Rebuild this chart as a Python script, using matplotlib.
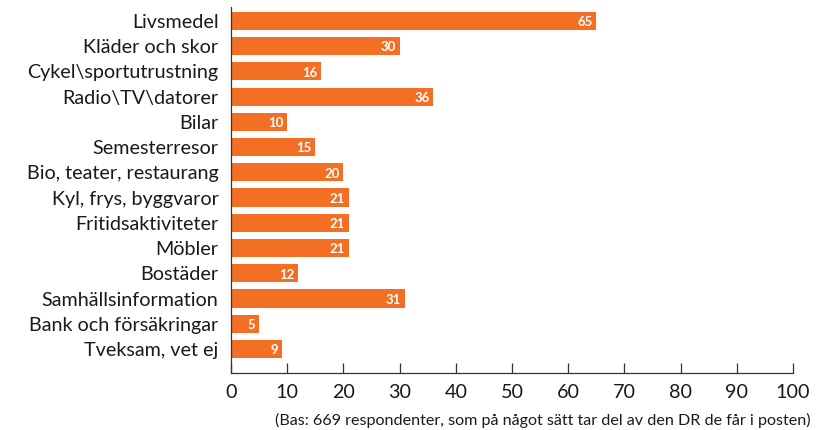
import matplotlib.pyplot as plt

categories = [
    "Livsmedel", "Kläder och skor", "Cykel\\sportutrustning", "Radio\\TV\\datorer",
    "Bilar", "Semesterresor", "Bio, teater, restaurang", "Kyl, frys, byggvaror",
    "Fritidsaktiviteter", "Möbler", "Bostäder", "Samhällsinformation",
    "Bank och försäkringar", "Tveksam, vet ej",
]
values = [65, 30, 16, 36, 10, 15, 20, 21, 21, 21, 12, 31, 5, 9]
xticks = [0, 10, 20, 30, 40, 50, 60, 70, 80, 90, 100]
note = "(Bas: 669 respondenter, som på något sätt tar del av den DR de får i posten)"

plt.rcParams["font.family"] = ["Lato", "DejaVu Sans"]

fig = plt.figure(figsize=(8.27, 4.30), dpi=100)
ax = fig.add_axes([0.2793, 0.1326, 0.6796, 0.8511])

pos = range(len(categories))
ax.barh(pos, values, height=0.72, color="#f26f24", zorder=2)

for y, v in zip(pos, values):
    ax.text(v - 0.7, y + 0.05, str(v), ha="right", va="center",
            color="white", fontsize=9.5, fontweight="bold")

ax.set_ylim(13.95, -0.55)
ax.set_xlim(0, 100)
ax.set_yticks(list(pos))
ax.set_yticklabels(categories, fontsize=14.2, color="#1a1a1a")
ax.tick_params(axis="y", length=0, pad=9)
ax.set_xticks(xticks)
ax.set_xticklabels([str(t) for t in xticks], fontsize=14.2, color="#1a1a1a")
ax.tick_params(axis="x", direction="in", length=7, width=0.9, color="#333333", pad=8)

for s in ["top", "right"]:
    ax.spines[s].set_visible(False)
for s in ["left", "bottom"]:
    ax.spines[s].set_color("#333333")
    ax.spines[s].set_linewidth(0.9)

fig.text(0.98, 0.004, note, ha="right", va="bottom", fontsize=11.6, color="#1a1a1a")

fig.savefig("out.png", dpi=100)
